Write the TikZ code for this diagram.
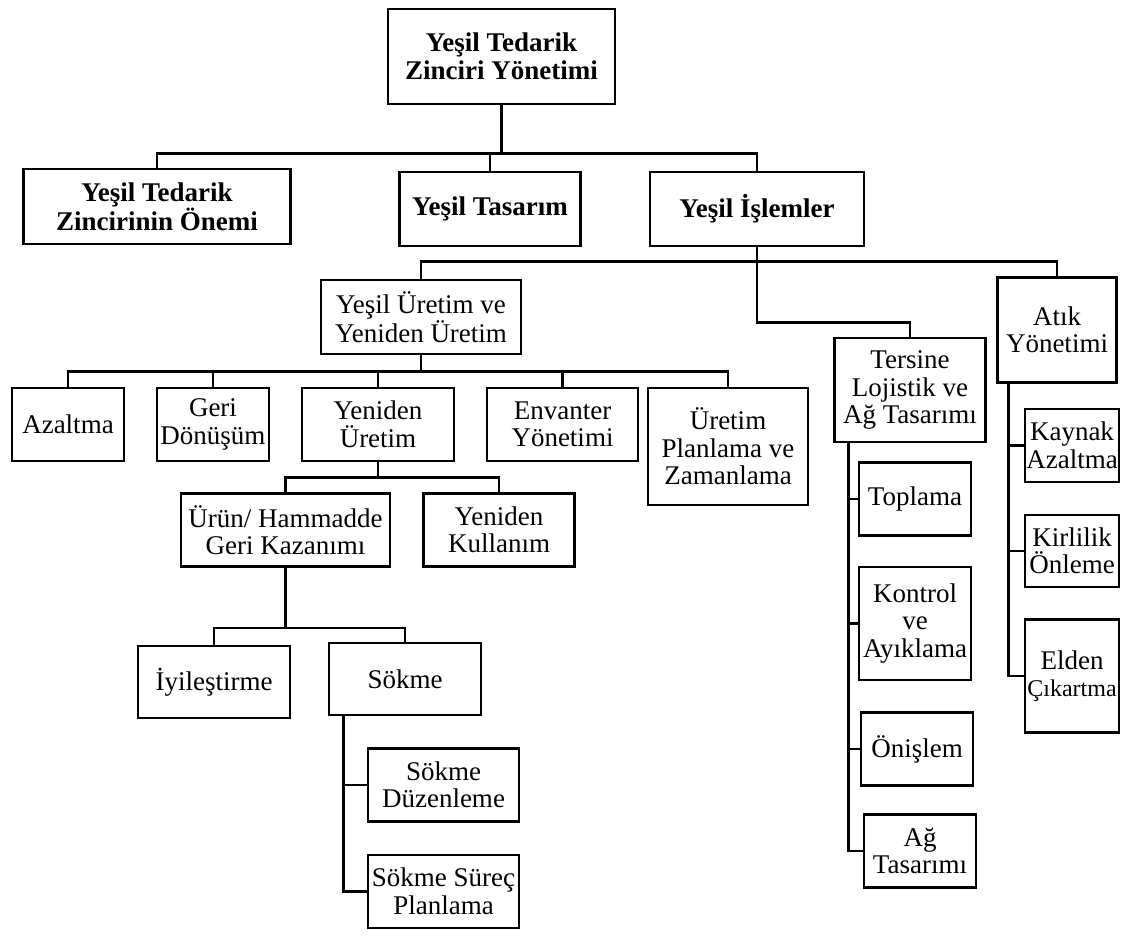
\documentclass[tikz,border=0pt]{standalone}
\usepackage{fontspec}
\setmainfont{Liberation Serif}
\usepackage{tikz}

\tikzset{
    box/.style={draw, line width=2.6pt, inner sep=0pt, align=center,
        font=\fontsize{27}{27.5}\selectfont},
    boldbox/.style={box, font=\fontsize{27}{27.5}\selectfont\bfseries},
    link/.style={line width=2.6pt}
}

\begin{document}
\begin{tikzpicture}[x=1pt, y=-1pt]
        \useasboundingbox (0,0) rectangle (1122,944);

        % Top level --  --  --  --  --  --  --  --  --  --  --  --  --  --
        \node[boldbox, minimum width=227, minimum height=95] (ytzy) at (501.5,56.5) {Yeşil Tedarik\\Zinciri Yönetimi};
        \node[boldbox, minimum width=267, minimum height=75] (onem) at (157,206.5) {Yeşil Tedarik\\Zincirinin Önemi};
        \node[boldbox, minimum width=181, minimum height=74] (tasarim) at (490,209) {Yeşil Tasarım};
        \node[boldbox, minimum width=214, minimum height=74] (islemler) at (757,209) {Yeşil İşlemler};

        \draw[link] (ytzy.south) -- ++(0,48) coordinate (j1);
        \draw[link] (j1) -| (onem.north);
        \draw[link] (j1) -| (tasarim.north);
        \draw[link] (j1) -| (islemler.north);
        %  --  --  --  --  --  --  --  --  --  --  --  --  --  --  --  --

        % Yesil Islemler --  --  --  --  --  --  --  --  --  --  --  --  --
        \node[box, minimum width=200, minimum height=74] (uretim) at (421,317) {Yeşil Üretim ve\\Yeniden Üretim};
        \node[box, minimum width=151, minimum height=104] (tersine) at (910,390) {Tersine\\Lojistik ve\\Ağ Tasarımı};
        \node[box, minimum width=119, minimum height=105] (atik) at (1057,330) {Atık\\Yönetimi};

        \draw[link] (islemler.south) -- ++(0,14) coordinate (j2);
        \draw[link] (j2) -| (uretim.north);
        \draw[link] (j2) -| (atik.north);
        \draw[link] (j2) -- ++(0,61) -| (tersine.north);
        %  --  --  --  --  --  --  --  --  --  --  --  --  --  --  --  --

        % Yesil Uretim ve Yeniden Uretim --  --  --  --  --  --  --  --  --
        \node[box, minimum width=112, minimum height=73] (azaltma) at (68,424.5) {Azaltma};
        \node[box, minimum width=112, minimum height=73] (geri) at (213,424.5) {Geri\\Dönüşüm};
        \node[box, minimum width=152, minimum height=73] (yenuretim) at (378,424.5) {Yeniden\\Üretim};
        \node[box, minimum width=151, minimum height=73] (envanter) at (562.5,424.5) {Envanter\\Yönetimi};
        \node[box, minimum width=160, minimum height=117] (planlama) at (728,446.5) {Üretim\\Planlama ve\\Zamanlama};

        \draw[link] (uretim.south) -- ++(0,16) coordinate (j3);
        \draw[link] (j3) -| (azaltma.north);
        \draw[link] (j3) -| (geri.north);
        \draw[link] (j3) -| (yenuretim.north);
        \draw[link] (j3) -| (envanter.north);
        \draw[link] (j3) -| (planlama.north);

        % Yeniden Uretim
        \node[box, minimum width=209, minimum height=73] (urun) at (285.5,530) {Ürün/ Hammadde\\Geri Kazanımı};
        \node[box, minimum width=151, minimum height=73] (kullanim) at (499,530) {Yeniden\\Kullanım};

        \draw[link] (yenuretim.south) -- ++(0,15) coordinate (j4);
        \draw[link] (j4) -| (urun.north);
        \draw[link] (j4) -| (kullanim.north);

        % Urun / Hammadde Geri Kazanimi
        \node[box, minimum width=152, minimum height=72] (iyiles) at (214,682) {İyileştirme};
        \node[box, minimum width=152, minimum height=72] (sokme) at (405,679) {Sökme};

        \draw[link] (urun.south) -- ++(0,60) coordinate (j5);
        \draw[link] (j5) -| (iyiles.north);
        \draw[link] (j5) -| (sokme.north);

        % Sokme
        \node[box, minimum width=151, minimum height=73] (duzen) at (443.5,785) {Sökme\\Düzenleme};
        \node[box, minimum width=151, minimum height=73] (surec) at (443.5,891.5) {Sökme Süreç\\Planlama};

        \draw[link] ([xshift=16pt]sokme.south west) |- (duzen.west);
        \draw[link] ([xshift=16pt]sokme.south west) |- (surec.west);
        %  --  --  --  --  --  --  --  --  --  --  --  --  --  --  --  --

        % Tersine Lojistik --  --  --  --  --  --  --  --  --  --  --  --
        \node[box, minimum width=112, minimum height=73] (toplama) at (915,499) {Toplama};
        \node[box, minimum width=112, minimum height=113] (kontrol) at (915,623.5) {Kontrol\\ve\\Ayıklama};
        \node[box, minimum width=112, minimum height=73] (onislem) at (917,749) {Önişlem};
        \node[box, minimum width=112, minimum height=73] (ag) at (920,851) {Ağ\\Tasarımı};

        \draw[link] ([xshift=15pt]tersine.south west) |- (toplama.west);
        \draw[link] ([xshift=15pt]tersine.south west) |- (kontrol.west);
        \draw[link] ([xshift=15pt]tersine.south west) |- (onislem.west);
        \draw[link] ([xshift=15pt]tersine.south west) |- (ag.west);
        %  --  --  --  --  --  --  --  --  --  --  --  --  --  --  --  --

        % Atik Yonetimi --  --  --  --  --  --  --  --  --  --  --  --  --
        \node[box, minimum width=94, minimum height=73] (kaynak) at (1072,445.5) {Kaynak\\Azaltma};
        \node[box, minimum width=94, minimum height=72] (kirlilik) at (1072,551) {Kirlilik\\Önleme};
        \node[box, minimum width=94, minimum height=113] (elden) at (1072,676) {Elden\\{\fontsize{24}{27}\selectfont Çıkartma}};

        \draw[link] ([xshift=12pt]atik.south west) |- (kaynak.west);
        \draw[link] ([xshift=12pt]atik.south west) |- (kirlilik.west);
        \draw[link] ([xshift=12pt]atik.south west) |- (elden.west);
        %  --  --  --  --  --  --  --  --  --  --  --  --  --  --  --  --
\end{tikzpicture}
\end{document}
